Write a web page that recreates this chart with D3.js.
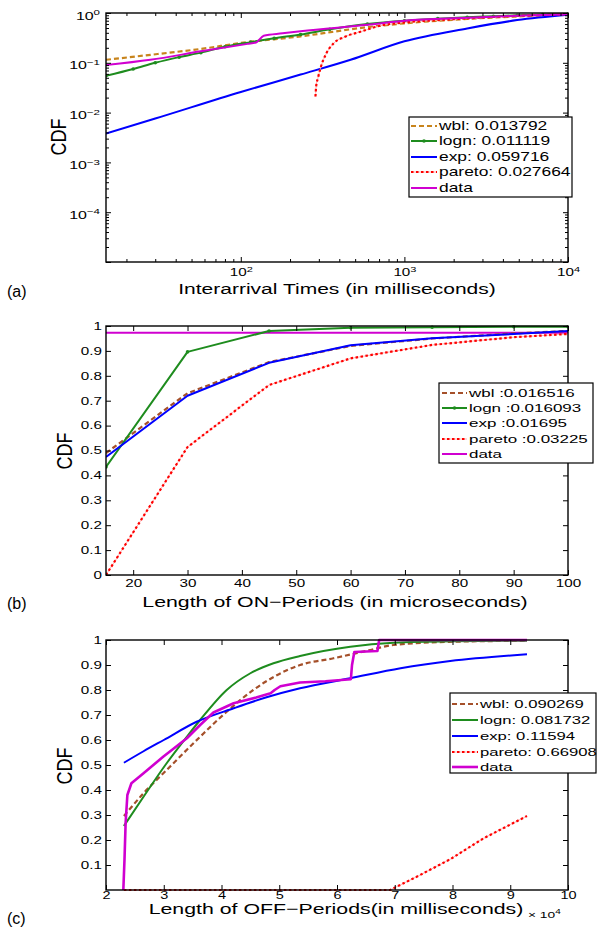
<!DOCTYPE html>
<html><head><meta charset="utf-8">
<script src="https://cdn.jsdelivr.net/npm/d3@7/dist/d3.min.js"></script>
<style>
body{margin:0;background:#fff}
svg{display:block}
text{font-family:"Liberation Sans",Arial,Helvetica,sans-serif;fill:#000}
</style></head><body>
<svg id="chart" width="597" height="929"></svg>
<script>
// ================= DATA =================
const seriesKeys = ["wbl","logn","exp","pareto","data"];

// Panel (a): Interarrival times (ms) vs CDF (log-log)
const aLegend = ["wbl: 0.013792","logn: 0.011119","exp: 0.059716","pareto: 0.027664","data"];
const aWbl    = [[15,0.115],[31,0.15],[57,0.19],[100,0.25],[232,0.34],[594,0.52],[1000,0.62],[2420,0.76],[4890,0.85],[10000,0.93]];
const aLogn   = [[15,0.055],[22,0.075],[30,0.1],[42,0.13],[57,0.16],[80,0.21],[115,0.26],[160,0.31],[232,0.37],[350,0.47],[594,0.6],[1000,0.7],[1600,0.77],[2420,0.82],[3500,0.86],[4890,0.9],[7000,0.93],[10000,0.95]];
const aExp    = [[15,0.0038],[30,0.0076],[100,0.026],[232,0.058],[469,0.115],[1000,0.27],[2420,0.49],[4890,0.72],[10000,0.92]];
const aPareto = [[286,0.021],[289,0.034],[296,0.049],[307,0.078],[330,0.145],[370,0.248],[426,0.326],[539,0.42],[750,0.575],[2000,0.75],[5000,0.88],[10000,0.95]];
const aData   = [[15,0.09],[28,0.115],[57,0.17],[110,0.24],[124,0.255],[138,0.35],[180,0.39],[232,0.43],[594,0.58],[1000,0.7],[2420,0.8],[4890,0.88],[10000,0.94]];
const aXTicks = [100,1000,10000];
const aYTicks = [1e-4,1e-3,1e-2,1e-1,1];

// Panel (b): Length of ON-periods (microseconds)
const bLegend = ["wbl :0.016516","logn :0.016093","exp :0.01695","pareto :0.03225","data"];
const bX      = [15,30,45,60,75,90,100];
const bWbl    = [0.49,0.73,0.855,0.92,0.95,0.97,0.98];
const bLogn   = [0.434,0.896,0.98,0.993,0.995,0.997,0.997];
const bExp    = [0.474,0.72,0.852,0.923,0.951,0.968,0.98];
const bPareto = [0,0.514,0.763,0.87,0.924,0.955,0.968];
const bData   = [0.973,0.973,0.973,0.973,0.973,0.973,0.973];
const bXTicks = [20,30,40,50,60,70,80,90,100];
const bYTicks = [0,0.1,0.2,0.3,0.4,0.5,0.6,0.7,0.8,0.9,1];

// Panel (c): Length of OFF-periods (ms)
const cLegend = ["wbl: 0.090269","logn: 0.081732","exp: 0.11594","pareto: 0.66908","data"];
const cWbl    = [[23100,0.296],[26500,0.387],[30500,0.48],[36300,0.613],[40900,0.713],[45500,0.8],[53600,0.9],[59400,0.927],[65200,0.957],[69800,0.98],[80000,0.993],[92900,0.997]];
const cLogn   = [[23100,0.256],[26500,0.373],[30500,0.507],[34000,0.613],[36300,0.68],[40900,0.8],[45000,0.867],[49000,0.907],[53600,0.936],[62300,0.973],[69800,0.989],[80000,0.995],[92900,0.997]];
const cExp    = [[23100,0.509],[26500,0.555],[30000,0.6],[35700,0.673],[42100,0.727],[47800,0.771],[53600,0.807],[62300,0.847],[71000,0.887],[79600,0.916],[92900,0.943]];
const cPareto = [[23100,0],[69200,0],[73800,0.053],[79600,0.123],[85400,0.207],[92900,0.296]];
const cData   = [[23000,0],[23200,0.12],[23400,0.27],[23700,0.38],[24400,0.427],[26500,0.467],[29900,0.533],[34000,0.607],[36300,0.66],[38600,0.71],[42100,0.747],[46000,0.77],[48500,0.787],[49200,0.8],[50200,0.815],[53600,0.83],[58000,0.835],[62400,0.843],[62600,0.9],[63000,0.952],[67000,0.956],[67300,1.0],[92900,1.0]];
const cXTicks = [20000,30000,40000,50000,60000,70000,80000,90000,100000];
const cYTicks = [0.1,0.2,0.3,0.4,0.5,0.6,0.7,0.8,0.9,1];

// ================= STYLE / LAYOUT =================
const SX = 1.45; // horizontal text stretch of the original figure
const styles = {
  wblA:   {color:"#c8841c", dash:"5,3", width:2.2},
  wbl:    {color:"#a5502a", dash:"5,3", width:2.2},
  logn:   {color:"#1e8c1e", dash:null, width:2, marker:true},
  lognC:  {color:"#1e8c1e", dash:null, width:2},
  exp:    {color:"#0000ff", dash:null, width:2},
  pareto: {color:"#ff0000", dash:"2.5,2.5", width:2.2, under:"#ffb0b0"},
  data:   {color:"#d000d0", dash:null, width:2},
  dataC:  {color:"#d000d0", dash:null, width:2.6}
};

const svg = d3.select("#chart");
let clipN = 0;

function stext(parent, x, y, str, size, anchor){
  return parent.append("text")
    .attr("transform", `translate(${x},${y}) scale(${SX},1)`)
    .attr("font-size", size).attr("text-anchor", anchor || "start").text(str);
}
function stretchTicks(sel){
  sel.selectAll(".tick text").each(function(){
    const t = d3.select(this);
    const x = +t.attr("x") || 0, y = +t.attr("y") || 0;
    t.attr("x", 0).attr("y", 0).attr("transform", `translate(${x},${y}) scale(${SX},1)`);
  });
}
function noDomain(s){ s.select(".domain").remove(); }

function frame(g, box, x, y, xMajor, yMajor, xMinor, yMinor){
  const L = 5, l = 3;
  const sets = [[xMajor,yMajor,L],[xMinor,yMinor,l]];
  sets.forEach(([xt,yt,len])=>{
    if(xt){
      g.append("g").attr("transform",`translate(0,${box.b})`).call(d3.axisBottom(x).tickValues(xt).tickSize(-len).tickSizeOuter(0).tickFormat("")).call(noDomain);
      g.append("g").attr("transform",`translate(0,${box.t})`).call(d3.axisTop(x).tickValues(xt).tickSize(-len).tickSizeOuter(0).tickFormat("")).call(noDomain);
    }
    if(yt){
      g.append("g").attr("transform",`translate(${box.l},0)`).call(d3.axisLeft(y).tickValues(yt).tickSize(-len).tickSizeOuter(0).tickFormat("")).call(noDomain);
      g.append("g").attr("transform",`translate(${box.r},0)`).call(d3.axisRight(y).tickValues(yt).tickSize(-len).tickSizeOuter(0).tickFormat("")).call(noDomain);
    }
  });
  g.selectAll(".tick line").attr("stroke","#000").attr("stroke-width",1);
  g.selectAll(".tick text").remove();
  g.append("rect").attr("x",box.l).attr("y",box.t).attr("width",box.r-box.l).attr("height",box.b-box.t)
    .attr("fill","none").attr("stroke","#000").attr("stroke-width",1.4);
}

function drawSeries(g, pts, st, x, y, box, curve){
  const id = "clip" + (clipN++);
  g.append("clipPath").attr("id",id).append("rect")
    .attr("x",box.l).attr("y",box.t-2).attr("width",box.r-box.l).attr("height",box.b-box.t+4);
  const line = d3.line().x(d=>x(d[0])).y(d=>y(d[1])).curve(curve || d3.curveLinear);
  const gg = g.append("g").attr("clip-path",`url(#${id})`);
  if(st.under) gg.append("path").attr("d",line(pts)).attr("fill","none").attr("stroke",st.under).attr("stroke-width",1);
  gg.append("path").attr("d",line(pts)).attr("fill","none").attr("stroke",st.color)
    .attr("stroke-width",st.width).attr("stroke-dasharray",st.dash).attr("stroke-linejoin","round");
  if(st.marker){
    gg.selectAll("circle.m").data(pts).join("circle").attr("class","m")
      .attr("cx",d=>x(d[0])).attr("cy",d=>y(d[1])).attr("r",1.8).attr("fill",st.color);
  }
}

function legend(g, box, rows, sampleX0, sampleX1, textX, labels, stList, fs){
  g.append("rect").attr("x",box.l).attr("y",box.t).attr("width",box.r-box.l).attr("height",box.b-box.t)
    .attr("fill","#fff").attr("stroke","#000").attr("stroke-width",1.2);
  labels.forEach((lab,i)=>{
    const st = stList[i], yy = rows[i];
    if(st.under) g.append("line").attr("x1",sampleX0).attr("x2",sampleX1).attr("y1",yy).attr("y2",yy).attr("stroke",st.under).attr("stroke-width",1);
    g.append("line").attr("x1",sampleX0).attr("x2",sampleX1).attr("y1",yy).attr("y2",yy)
      .attr("stroke",st.color).attr("stroke-width",st.width).attr("stroke-dasharray",st.dash);
    if(st.marker) g.append("circle").attr("cx",(sampleX0+sampleX1)/2).attr("cy",yy).attr("r",1.8).attr("fill",st.color);
    stext(g, textX, yy+4.3, lab, fs, "start");
  });
}

function supLabels(sel){
  sel.selectAll(".tick text").each(function(d){
    const t = d3.select(this);
    const e = Math.round(Math.log10(d));
    t.text(null);
    t.append("tspan").text("10");
    t.append("tspan").attr("dy","-0.55em").attr("font-size","0.72em").text(e < 0 ? "\u2212" + (-e) : String(e));
  });
}

function rotLabel(g, baseX, cy, str){
  g.append("text").attr("transform",`translate(${baseX},${cy}) scale(${SX},1) rotate(-90) scale(1.2,1)`)
    .attr("font-size",15).attr("text-anchor","middle").text(str);
}

function panelLetter(g, x, y, str){
  g.append("text").attr("x",x).attr("y",y).attr("font-family","'Liberation Serif','Times New Roman',serif")
    .attr("font-size",16).text(str);
}

// ================= PANEL (a) =================
(function(){
  const box = {l:106, r:568, t:13, b:262};
  const g = svg.append("g");
  const x = d3.scaleLog().domain([15,10000]).range([box.l,box.r]);
  const y = d3.scaleLog().domain([1e-5,1]).range([box.b,box.t]);
  const xMinor = [], yMinor = [];
  [10,100,1000].forEach(dec=>{ for(let k=2;k<=9;k++){ const v=dec*k; if(v>=15 && v<=10000) xMinor.push(v);} });
  [1e-5,1e-4,1e-3,1e-2,1e-1].forEach(dec=>{ for(let k=2;k<=9;k++) yMinor.push(dec*k); });

  const series = [[aWbl,styles.wblA],[aLogn,styles.logn],[aExp,styles.exp],[aPareto,styles.pareto],[aData,styles.data]];
  series.forEach(([p,s])=>drawSeries(g,p,s,x,y,box,d3.curveMonotoneX));
  frame(g, box, x, y, aXTicks, [1e-5].concat(aYTicks), xMinor, yMinor);

  const xa = g.append("g").attr("transform",`translate(0,${box.b})`)
    .call(d3.axisBottom(x).tickValues(aXTicks).tickSize(0).tickPadding(7)).call(noDomain);
  xa.selectAll(".tick text").attr("font-size",10.5);
  supLabels(xa); stretchTicks(xa);
  const ya = g.append("g").attr("transform",`translate(${box.l},0)`)
    .call(d3.axisLeft(y).tickValues(aYTicks).tickSize(0).tickPadding(6)).call(noDomain);
  ya.selectAll(".tick text").attr("font-size",11).attr("dy","0.55em");
  supLabels(ya); stretchTicks(ya);
  g.selectAll(".tick text").attr("fill","#000");

  stext(g, 337, 294, "Interarrival Times (in milliseconds)", 14.5, "middle");
  rotLabel(g, 65.5, 137, "CDF");
  panelLetter(g, 7, 297, "(a)");

  legend(g, {l:409,r:572,t:117,b:197}, [126,141,157,172,188], 411, 437, 439, aLegend,
    [styles.wblA, styles.logn, styles.exp, styles.pareto, styles.data], 12);
})();

// ================= PANEL (b) =================
(function(){
  const box = {l:106, r:568, t:326, b:575};
  const g = svg.append("g");
  const x = d3.scaleLinear().domain([15,100]).range([box.l,box.r]);
  const y = d3.scaleLinear().domain([0,1]).range([box.b,box.t]);
  const zip = v => bX.map((xx,i)=>[xx,v[i]]);
  const series = [[zip(bData),styles.data],[zip(bWbl),styles.wbl],[zip(bLogn),styles.logn],[zip(bExp),styles.exp],[zip(bPareto),styles.pareto]];
  series.forEach(([p,s])=>drawSeries(g,p,s,x,y,box));
  frame(g, box, x, y, bXTicks, bYTicks, null, null);

  const xa = g.append("g").attr("transform",`translate(0,${box.b})`)
    .call(d3.axisBottom(x).tickValues(bXTicks).tickSize(0).tickPadding(5).tickFormat(d3.format("d"))).call(noDomain);
  xa.selectAll(".tick text").attr("font-size",10.5);
  stretchTicks(xa);
  const ya = g.append("g").attr("transform",`translate(${box.l},0)`)
    .call(d3.axisLeft(y).tickValues(bYTicks).tickSize(0).tickPadding(4).tickFormat(d=>d===0?"0":d===1?"1":d3.format(".1f")(d))).call(noDomain);
  ya.selectAll(".tick text").attr("font-size",10.5);
  stretchTicks(ya);
  g.selectAll(".tick text").attr("fill","#000");

  stext(g, 335, 607, "Length of ON\u2212Periods (in microseconds)", 14.7, "middle");
  rotLabel(g, 72, 451, "CDF");
  panelLetter(g, 7, 609, "(b)");

  legend(g, {l:439,r:593,t:383,b:463}, [393,408,423,439,454], 442, 467, 469, bLegend,
    [styles.wbl, styles.logn, styles.exp, styles.pareto, styles.data], 11.7);
})();

// ================= PANEL (c) =================
(function(){
  const box = {l:106, r:568, t:640, b:890};
  const g = svg.append("g");
  const x = d3.scaleLinear().domain([20000,100000]).range([box.l,box.r]);
  const y = d3.scaleLinear().domain([0,1]).range([box.b,box.t]);
  const series = [[cWbl,styles.wbl],[cLogn,styles.lognC],[cExp,styles.exp],[cPareto,styles.pareto],[cData,styles.dataC]];
  series.forEach(([p,s])=>drawSeries(g,p,s,x,y,box, s===styles.dataC||s===styles.pareto ? d3.curveLinear : d3.curveMonotoneX));
  frame(g, box, x, y, cXTicks, cYTicks, null, null);

  const xa = g.append("g").attr("transform",`translate(0,${box.b})`)
    .call(d3.axisBottom(x).tickValues(cXTicks).tickSize(0).tickPadding(2).tickFormat(d=>String(d/10000))).call(noDomain);
  xa.selectAll(".tick text").attr("font-size",10);
  stretchTicks(xa);
  const ya = g.append("g").attr("transform",`translate(${box.l},0)`)
    .call(d3.axisLeft(y).tickValues(cYTicks).tickSize(0).tickPadding(4).tickFormat(d=>d===1?"1":d3.format(".1f")(d))).call(noDomain);
  ya.selectAll(".tick text").attr("font-size",10.5);
  stretchTicks(ya);
  g.selectAll(".tick text").attr("fill","#000");

  stext(g, 336, 914, "Length of OFF\u2212Periods(in milliseconds)", 14.7, "middle");
  const m = g.append("text").attr("transform",`translate(528,918) scale(${SX},1)`).attr("font-size",9.5);
  m.append("tspan").text("\u00d7 10");
  m.append("tspan").attr("dy","-0.55em").attr("font-size","0.72em").text("4");
  rotLabel(g, 72, 766, "CDF");
  panelLetter(g, 7, 924, "(c)");

  legend(g, {l:450,r:596,t:693,b:773}, [704,720,736,752,767], 452, 478, 480, cLegend,
    [styles.wbl, styles.lognC, styles.exp, styles.pareto, styles.dataC], 11.5);
})();
</script>
</body></html>
